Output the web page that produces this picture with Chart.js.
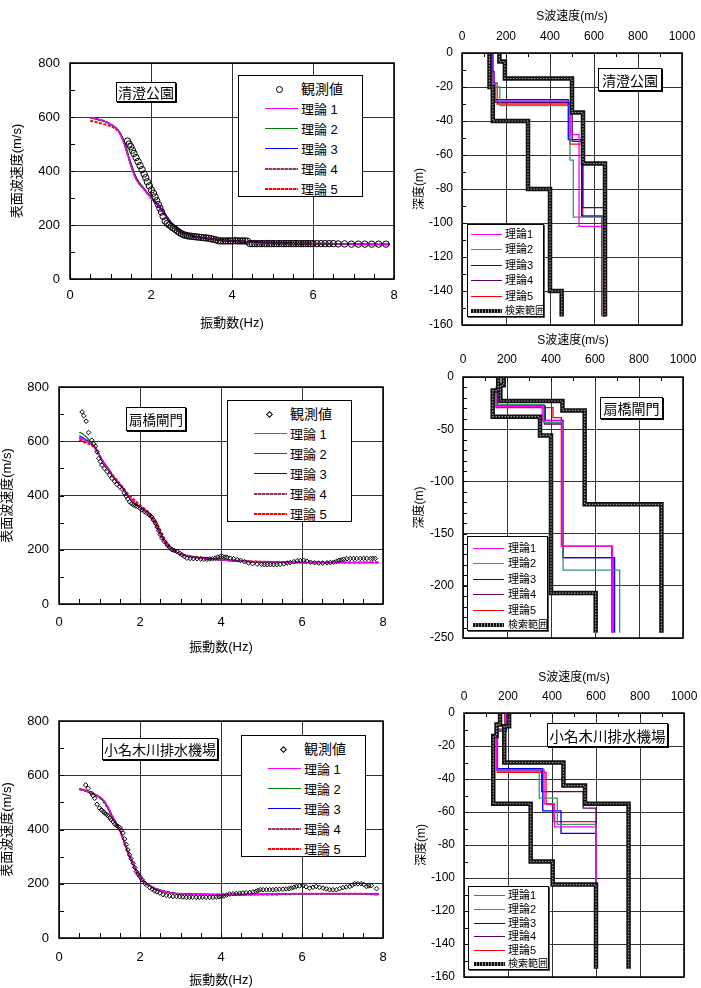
<!DOCTYPE html>
<html lang="ja"><head><meta charset="utf-8">
<script src="https://cdn.jsdelivr.net/npm/chart.js@4.4.1/dist/chart.umd.min.js"></script>
<style>
html,body{margin:0;padding:0;background:#fff;}
body{position:relative;width:701px;height:988px;overflow:hidden;font-family:"Liberation Sans","Noto Sans CJK JP",sans-serif;color:#000;}
.cv{position:absolute;}
.lg{position:absolute;background:#fff;border:1px solid #000;box-sizing:border-box;}
.tx{position:absolute;white-space:nowrap;line-height:1;transform:translateY(-50%);font-family:"Liberation Sans","Noto Sans CJK JP",sans-serif;}
.st{position:absolute;background:#fff;border:1px solid #000;box-shadow:1px 1px 0 #000;box-sizing:border-box;display:flex;align-items:center;justify-content:center;white-space:nowrap;font-family:"Noto Sans CJK JP",sans-serif;}
</style></head><body>
<canvas id="c1" class="cv" width="410" height="300" style="left:0;top:45px"></canvas>
<canvas id="c3" class="cv" width="400" height="300" style="left:0;top:360px"></canvas>
<canvas id="c5" class="cv" width="400" height="288" style="left:0;top:700px"></canvas>
<canvas id="c2" class="cv" width="301" height="335" style="left:400px;top:0"></canvas>
<canvas id="c4" class="cv" width="301" height="320" style="left:400px;top:330px"></canvas>
<canvas id="c6" class="cv" width="301" height="328" style="left:400px;top:660px"></canvas>
<script>
// ---------------- DATA ----------------
const stationNames = ['清澄公園', '扇橋閘門', '小名木川排水機場'];
const leftLegendLabels = ['観測値', '理論 1', '理論 2', '理論 3', '理論 4', '理論 5'];
const rightLegendLabels = ['理論1', '理論2', '理論3', '理論4', '理論5', '検索範囲'];
const freqTicks = [0, 2, 4, 6, 8];
const vrTicks = [0, 200, 400, 600, 800];

// 清澄公園 observed
const obs1F = [1.42,1.46,1.50,1.54,1.58,1.63,1.68,1.73,1.78,1.83,
  1.87,1.91,1.96,2.01,2.06,2.10,2.14,2.18,2.22,2.26,
  2.30,2.35,2.40,2.45,2.50,2.55,2.60,2.65,2.70,2.75,
  2.80,2.85,2.90,2.95,3.00,3.06,3.12,3.18,3.24,3.30,
  3.36,3.42,3.48,3.54,3.60,3.66,3.72,3.78,3.84,3.90,
  3.96,4.02,4.08,4.14,4.20,4.26,4.32,4.38,4.44,4.50,
  4.56,4.62,4.68,4.74,4.80,4.86,4.92,4.98,5.04,5.10,
  5.16,5.22,5.28,5.34,5.40,5.46,5.52,5.58,5.64,5.70,
  5.76,5.82,5.88,5.94,6.00,6.10,6.20,6.30,6.40,6.50,
  6.62,6.78,6.95,7.12,7.28,7.45,7.62,7.80];
const obs1V = [511,500,490,477,465,450,435,420,405,389,
  375,360,345,330,318,304,290,276,262,248,
  232,215,206,200,195,189,184,178,173,168,
  164,162,160,159,158,157,156,155,154,153,
  152,151,149,147,145,142,141,141,141,141,
  141,141,142,141,141,141,141,140,131,131,
  131,131,131,131,131,131,131,131,131,131,
  131,131,131,131,131,131,131,131,131,131,
  131,131,131,131,131,131,131,131,131,131,
  130,130,129,129,129,129,129,129];
// 清澄公園 theory
const th1F = [0.5,0.6,0.7,0.8,0.9,1.0,1.1,1.2,1.25,1.3,1.35,1.4,1.45,1.5,1.6,1.7,1.8,1.9,2.0,2.1,2.2,2.3,2.4,2.5,2.6,2.7,2.8,3.0,3.2,3.5,4.0,4.5,5.0,5.5,6.0,6.5,7.0,7.5,7.9];
const th1T1 = [598,596,592,588,582,574,563,546,533,515,495,470,445,420,378,352,336,318,300,284,267,246,224,205,189,177,168,159,154,148,141,137,134,132,131,130,129,128,128];
const th1T2 = [597,595,591,587,581,574,564,548,536,520,500,476,452,428,385,357,339,320,302,286,269,248,227,207,191,178,168,159,154,148,141,137,134,132,131,130,129,128,128];
const th1T3 = [596,594,590,586,580,573,564,549,538,522,502,478,454,430,387,359,340,321,303,288,272,252,231,210,193,179,169,159,154,148,141,137,134,132,131,130,129,128,128];
const th1T4 = [597,595,591,587,581,573,563,547,535,518,498,473,449,425,383,356,338,319,301,285,268,247,225,206,190,178,168,159,154,148,141,137,134,132,131,130,129,128,128];
const th1T5 = [586,583,579,575,570,566,559,546,535,518,498,474,450,426,384,357,338,319,301,286,269,248,227,207,191,178,168,159,154,148,141,137,134,132,131,130,129,128,128];

// 扇橋閘門 observed
const obs3F = [0.57,0.61,0.67,0.73,0.81,0.86,0.90,0.94,0.98,1.02,
  1.06,1.12,1.19,1.25,1.31,1.37,1.43,1.50,1.56,1.61,
  1.66,1.70,1.74,1.79,1.84,1.89,1.94,2.00,2.05,2.11,
  2.17,2.23,2.28,2.33,2.38,2.42,2.46,2.50,2.54,2.60,
  2.67,2.73,2.79,2.85,2.91,2.98,3.04,3.10,3.16,3.24,
  3.32,3.41,3.50,3.58,3.65,3.72,3.79,3.86,3.92,3.98,
  4.04,4.10,4.15,4.23,4.31,4.40,4.48,4.58,4.68,4.78,
  4.89,5.00,5.07,5.14,5.22,5.30,5.38,5.46,5.55,5.63,
  5.71,5.80,5.88,5.96,6.04,6.12,6.21,6.31,6.41,6.51,
  6.62,6.70,6.78,6.85,6.91,6.97,7.03,7.11,7.19,7.27,
  7.35,7.44,7.52,7.60,7.69,7.75,7.81];
const obs3V = [708,694,674,632,604,590,582,561,537,525,
  512,500,488,475,463,452,441,432,423,410,
  398,387,377,370,365,362,359,353,347,341,
  335,328,322,310,298,284,270,256,243,230,
  218,208,200,197,194,187,181,175,169,168,
  167,167,166,165,165,166,167,169,173,175,
  175,173,172,169,167,164,161,156,151,149,
  147,146,145,145,145,145,145,146,148,151,
  153,156,159,160,161,158,154,152,151,151,
  152,153,154,157,161,163,165,167,168,168,
  168,168,168,168,168,168,168];
// 扇橋閘門 theory
const th3F = [0.5,0.6,0.7,0.8,0.9,1.0,1.1,1.2,1.3,1.4,1.5,1.6,1.7,1.8,1.9,2.0,2.1,2.2,2.3,2.4,2.5,2.6,2.7,2.8,2.9,3.0,3.2,3.5,4.0,4.5,5.0,5.5,6.0,6.5,7.0,7.5,7.9];
const th3T1 = [615,606,598,590,574,548,522,500,478,458,440,420,400,383,368,356,344,331,312,284,254,228,210,198,190,184,176,170,163,158,155,154,153,153,153,153,153];
const th3T2 = [633,626,612,592,575,548,522,500,478,458,440,420,400,383,368,356,344,332,316,290,260,232,212,199,190,184,176,170,163,158,155,154,153,153,153,153,153];
const th3T3 = [620,612,603,592,575,548,522,500,478,458,440,420,400,383,368,356,344,332,316,290,260,232,212,199,190,184,176,170,163,158,155,154,153,153,153,153,153];
const th3T4 = [612,604,598,591,575,548,522,500,478,458,440,421,401,384,369,357,345,333,317,291,261,233,213,200,191,184,176,170,163,158,155,154,153,153,153,153,153];
const th3T5 = [605,598,592,586,572,547,522,502,481,462,444,425,406,392,378,364,352,340,325,302,272,242,218,203,192,185,177,171,164,159,156,154,153,153,153,153,153];

// 小名木川排水機場 observed
const obs5F = [0.66,0.72,0.80,0.84,0.88,0.94,1.00,1.05,1.09,1.13,
  1.17,1.21,1.25,1.29,1.33,1.38,1.42,1.46,1.50,1.54,
  1.58,1.62,1.66,1.70,1.74,1.78,1.83,1.87,1.91,1.95,
  1.99,2.05,2.12,2.18,2.24,2.30,2.36,2.42,2.49,2.57,
  2.65,2.73,2.81,2.90,2.98,3.06,3.14,3.22,3.30,3.39,
  3.47,3.55,3.63,3.72,3.80,3.88,3.95,4.01,4.07,4.14,
  4.21,4.30,4.38,4.46,4.54,4.62,4.71,4.79,4.86,4.91,
  4.97,5.04,5.12,5.20,5.28,5.36,5.44,5.53,5.61,5.68,
  5.74,5.80,5.86,5.94,6.02,6.10,6.19,6.27,6.35,6.43,
  6.52,6.60,6.68,6.76,6.85,6.93,7.01,7.09,7.18,7.24,
  7.30,7.38,7.46,7.53,7.59,7.65,7.71,7.84];
const obs5V = [564,552,534,525,515,493,479,472,466,461,
  456,450,444,436,429,420,415,411,407,398,
  387,365,344,325,307,292,276,260,245,236,
  227,215,202,194,186,180,174,170,166,160,
  157,155,153,153,152,151,150,150,150,150,
  150,150,150,150,150,151,152,153,155,158,
  162,163,164,165,166,167,168,170,172,175,
  178,178,178,178,178,179,180,180,181,182,
  184,187,190,192,193,189,184,187,190,187,
  184,181,178,178,178,182,186,188,190,195,
  200,200,200,197,190,192,193,182];
// 小名木川排水機場 theory
const th5F = [0.5,0.6,0.7,0.8,0.9,1.0,1.1,1.2,1.3,1.4,1.5,1.6,1.7,1.8,1.9,2.0,2.1,2.2,2.3,2.4,2.6,2.8,3.0,3.5,4.0,4.5,5.0,5.5,6.0,6.5,7.0,7.5,7.9];
const th5T1 = [548,545,541,536,530,521,508,485,455,427,399,360,318,282,252,226,208,196,188,181,172,166,163,161,160,160,161,162,163,163,163,163,161];
const th5T2 = [548,545,540,535,528,519,505,482,452,425,398,360,318,282,252,226,208,196,188,181,172,166,163,161,160,160,161,162,163,163,163,163,161];
const th5T3 = [548,545,540,535,528,519,505,482,452,425,398,359,317,281,251,226,208,196,188,181,172,166,163,161,160,160,161,162,164,164,164,164,162];
const th5T4 = [548,545,540,535,528,520,507,484,454,426,399,360,318,282,252,226,208,196,188,181,172,166,163,161,160,160,161,162,163,163,163,163,161];
const th5T5 = [549,546,541,535,527,518,503,480,450,423,396,357,316,280,250,225,207,195,187,180,171,165,162,160,160,160,160,161,162,162,162,162,160];

// Vs profiles: layer velocities (m/s) and layer bottom depths (m)
// 清澄公園
const sr2MinV = [125,140,300,400,453], sr2MinD = [20,40,80,140,155];
const sr2MaxV = [170,195,500,550,650], sr2MaxD = [5,15,35,65,155];
const p2T1V = [135,150,495,532,646], p2T1D = [18,28.5,48,102,155];
const p2T2V = [135,172,491,506,643], p2T2D = [20,31,63,96.5,155];
const p2T3V = [140,146,483,544,643], p2T3D = [11,27.5,51,96,155];
const p2T4V = [135,150,501,549,646], p2T4D = [18,29,52,91,155];
const p2T5V = [140,160,491,549,635], p2T5D = [17.7,30,53.6,96,155];
// 扇橋閘門
const sr4MinV = [160,135,350,400,603], sr4MinD = [13,38,56,207,245];
const sr4MaxV = [185,170,452,553,902], sr4MaxD = [8,23,32,122,245];
const p4T1V = [165,150,360,450,679], p4T1D = [10,28,42,162,245];
const p4T2V = [160,152,367,455,712], p4T2D = [12,26.5,43.7,185,245];
const p4T3V = [165,155,374,455,689], p4T3D = [8,28,41.5,173,245];
const p4T4V = [165,155,370,455,682], p4T4D = [10,27,45,173,245];
const p4T5V = [160,150,409,447,676], p4T5D = [12,29.4,39,162,245];
// 小名木川排水機場
const sr6MinV = [164,148,133,303,403,600], sr6MinD = [7,14,55,90,104,155];
const sr6MaxV = [205,183,452,550,748], sr6MaxD = [8,30,44,55,155];
const p6T1V = [191,148,364,411,600], p6T1D = [10,34.4,55,69,155];
const p6T2V = [188,150,342,424,600], p6T2D = [11,35,51.6,67.5,155];
const p6T3V = [193,150,358,441,600], p6T3D = [11,33.8,59.3,73,155];
const p6T4V = [190,152,353,542,600], p6T4D = [10,35,47.6,57.7,155];
const p6T5V = [185,152,373,409,600], p6T5D = [10,36,55.3,65.8,155];

// ---------------- RENDER ----------------
Chart.defaults.font.family = "'Liberation Sans','Noto Sans CJK JP',sans-serif";
Chart.defaults.color = '#000';

const pts = (xs, ys) => xs.map((x, i) => ({x, y: ys[i]}));
function steps(vs, ds) {
  const out = [{x: vs[0], y: 0}];
  for (let i = 0; i < vs.length; i++) {
    out.push({x: vs[i], y: -ds[i]});
    if (i < vs.length - 1) out.push({x: vs[i + 1], y: -ds[i]});
  }
  return out;
}

const frameMinor = {
  id: 'frameMinor',
  afterDatasetsDraw(chart, args, o) {
    const {ctx, chartArea: a, scales: {x, y}} = chart;
    ctx.save();
    ctx.strokeStyle = '#000'; ctx.lineWidth = 1;
    ctx.beginPath();
    if (o.xStep) {
      for (let i = 0; x.min + i * o.xStep <= x.max + 1e-9; i++) {
        const px = Math.round(x.getPixelForValue(x.min + i * o.xStep)) + 0.5;
        if (o.xTop) { ctx.moveTo(px, a.top); ctx.lineTo(px, a.top + o.len); }
        else { ctx.moveTo(px, a.bottom); ctx.lineTo(px, a.bottom - o.len); }
      }
    }
    if (o.yStep) {
      for (let i = 0; y.min + i * o.yStep <= y.max + 1e-9; i++) {
        const py = Math.round(y.getPixelForValue(y.min + i * o.yStep)) + 0.5;
        ctx.moveTo(a.left, py); ctx.lineTo(a.left + o.len, py);
      }
    }
    ctx.stroke();
    ctx.lineWidth = 1.5;
    ctx.strokeRect(a.left, a.top, a.right - a.left, a.bottom - a.top);
    ctx.restore();
  }
};

function fitW(w) { return s => { s.width = w; s.paddingTop = s.paddingBottom = s.paddingLeft = s.paddingRight = 0; }; }
function fitH(h) { return s => { s.height = h; s.paddingTop = s.paddingBottom = s.paddingLeft = s.paddingRight = 0; }; }

const leftColors = [
  {c: '#ff00ff', w: 1.2, d: []},
  {c: '#008000', w: 1.2, d: []},
  {c: '#0000ff', w: 1.2, d: []},
  {c: '#993366', w: 2, d: [4, 1.5]},
  {c: '#ff0000', w: 2, d: [3, 1.5]}
];
const rightColors = ['#ff00ff', '#339966', '#0000ff', '#660066', '#ff0000'];

function leftChart(id, g, obsF, obsV, marker, thF, ths, t) {
  const datasets = [{
    data: pts(obsF, obsV), showLine: false,
    pointStyle: marker === 'circle' ? 'circle' : 'rectRot',
    pointRadius: marker === 'circle' ? 3.2 : 2.3,
    pointBorderColor: '#000', pointBackgroundColor: 'rgba(0,0,0,0)', pointBorderWidth: 1
  }];
  ths.forEach((v, i) => datasets.push({
    data: pts(thF, v), showLine: true, pointRadius: 0,
    borderColor: leftColors[i].c, borderWidth: leftColors[i].w, borderDash: leftColors[i].d,
    cubicInterpolationMode: 'monotone'
  }));
  new Chart(document.getElementById(id), {
    type: 'scatter',
    data: {datasets},
    options: {
      responsive: false, animation: false, events: [], devicePixelRatio: 1,
      layout: {padding: {top: g.t - g.ct, right: g.cl + g.w - g.r, bottom: 0, left: 0}},
      plugins: {legend: {display: false}, tooltip: {enabled: false},
        frameMinor: {xStep: 0.5, yStep: 100, len: 5}},
      scales: {
        x: {type: 'linear', min: 0, max: 8, position: 'bottom',
          afterBuildTicks: s => { s.ticks = freqTicks.map(v => ({value: v})); },
          ticks: {padding: t.xPad, font: {size: 13}, maxRotation: 0, callback: v => String(v)},
          grid: {color: '#333', lineWidth: 1, drawTicks: false},
          border: {display: false},
          title: {display: true, text: '振動数(Hz)', font: {size: 13}, padding: {top: 0, bottom: t.xTitle}},
          afterFit: fitH(g.ct + g.h - g.b)},
        y: {type: 'linear', min: 0, max: 800, position: 'left',
          afterBuildTicks: s => { s.ticks = vrTicks.map(v => ({value: v})); },
          ticks: {padding: 10, font: {size: 13}, callback: v => String(v)},
          grid: {color: '#333', lineWidth: 1, drawTicks: false},
          border: {display: false},
          title: {display: true, text: '表面波速度(m/s)', font: {size: 13}, padding: {top: t.yTitle, bottom: 0}},
          afterFit: fitW(g.l - g.cl)}
      }
    },
    plugins: [frameMinor]
  });
}

function rightChart(id, g, ymin, ystep, srMin, srMax, profs, t) {
  const datasets = [];
  [srMin, srMax].forEach(s => datasets.push({data: steps(s[0], s[1]), showLine: true, pointRadius: 0, borderColor: '#a0a0a0', borderWidth: 1.2, borderDash: [1.5, 1.5]}));
  [srMin, srMax].forEach(s => datasets.push({data: steps(s[0], s[1]), showLine: true, pointRadius: 0, borderColor: '#111', borderWidth: 4.5}));
  profs.forEach((p, i) => datasets.push({data: steps(p[0], p[1]), showLine: true, pointRadius: 0, borderColor: rightColors[i], borderWidth: 1.3}));
  new Chart(document.getElementById(id), {
    type: 'scatter',
    data: {datasets},
    options: {
      responsive: false, animation: false, events: [], devicePixelRatio: 1,
      layout: {padding: {top: 0, right: g.cl + g.w - g.r, bottom: g.ct + g.h - g.b, left: 0}},
      plugins: {legend: {display: false}, tooltip: {enabled: false},
        frameMinor: {xStep: 100, xTop: true, yStep: ystep / (ystep === 50 ? 5 : 2), len: 4}},
      scales: {
        x: {type: 'linear', min: 0, max: 1000, position: 'top',
          ticks: {stepSize: 200, padding: t.xPad, font: {size: 12}, maxRotation: 0, callback: v => String(v)},
          grid: {color: '#333', lineWidth: 1, drawTicks: false},
          border: {display: false},
          title: {display: true, text: 'S波速度(m/s)', font: {size: 12}, padding: {top: t.xTitle, bottom: 0}},
          afterFit: fitH(g.t - g.ct)},
        y: {type: 'linear', min: ymin, max: 0, position: 'left',
          ticks: {stepSize: ystep, padding: 9, font: {size: 12}, callback: v => String(v)},
          grid: {color: '#333', lineWidth: 1, drawTicks: false},
          border: {display: false},
          title: {display: true, text: '深度(m)', font: {size: 12}, padding: {top: t.yTitle, bottom: 0}},
          afterFit: fitW(g.l - g.cl)}
      }
    },
    plugins: [frameMinor]
  });
}

leftChart('c1', {cl: 0, ct: 45, w: 410, h: 300, l: 70, t: 63, r: 394, b: 279}, obs1F, obs1V, 'circle', th1F,
  [th1T1, th1T2, th1T3, th1T4, th1T5], {xPad: 9, xTitle: 14, yTitle: 10});
leftChart('c3', {cl: 0, ct: 360, w: 400, h: 300, l: 59, t: 387, r: 383, b: 604}, obs3F, obs3V, 'diamond', th3F,
  [th3T1, th3T2, th3T3, th3T4, th3T5], {xPad: 11, xTitle: 5, yTitle: 0});
leftChart('c5', {cl: 0, ct: 700, w: 400, h: 288, l: 59, t: 721, r: 383, b: 938}, obs5F, obs5V, 'diamond', th5F,
  [th5T1, th5T2, th5T3, th5T4, th5T5], {xPad: 12, xTitle: 0, yTitle: 0});

rightChart('c2', {cl: 400, ct: 0, w: 301, h: 335, l: 462, t: 53, r: 682, b: 325}, -160, 20,
  [sr2MinV, sr2MinD], [sr2MaxV, sr2MaxD],
  [[p2T1V, p2T1D], [p2T2V, p2T2D], [p2T3V, p2T3D], [p2T4V, p2T4D], [p2T5V, p2T5D]], {xPad: 9, xTitle: 9, yTitle: 12});
rightChart('c4', {cl: 400, ct: 330, w: 301, h: 320, l: 463, t: 377, r: 683, b: 638}, -250, 50,
  [sr4MinV, sr4MinD], [sr4MaxV, sr4MaxD],
  [[p4T1V, p4T1D], [p4T2V, p4T2D], [p4T3V, p4T3D], [p4T4V, p4T4D], [p4T5V, p4T5D]], {xPad: 10, xTitle: 3, yTitle: 12});
rightChart('c6', {cl: 400, ct: 660, w: 301, h: 328, l: 464, t: 713, r: 684, b: 977}, -160, 20,
  [sr6MinV, sr6MinD], [sr6MaxV, sr6MaxD],
  [[p6T1V, p6T1D], [p6T2V, p6T2D], [p6T3V, p6T3D], [p6T4V, p6T4D], [p6T5V, p6T5D]], {xPad: 9, xTitle: 10, yTitle: 14});

// ---------------- HTML legends and labels ----------------
function mk(parent, styles, cls, text) {
  const d = document.createElement('div');
  if (cls) d.className = cls;
  Object.assign(d.style, {position: 'absolute'}, styles);
  if (text !== undefined) d.textContent = text;
  parent.appendChild(d);
  return d;
}
const leftSamples = [
  {h: 1.3, bg: '#ff00ff'},
  {h: 1.3, bg: '#008000'},
  {h: 1.3, bg: '#0000ff'},
  {h: 2, bg: 'repeating-linear-gradient(90deg,#993366 0 3px,#c890b0 3px 4px)'},
  {h: 2, bg: 'repeating-linear-gradient(90deg,#ff0000 0 3px,#ff9a9a 3px 4px)'}
];
function leftLegend(x, y, marker) {
  const box = mk(document.body, {left: x + 'px', top: y + 'px', width: '125px', height: '122px'}, 'lg');
  leftLegendLabels.forEach((lab, i) => {
    const cy = 13 + 20 * i;
    if (i === 0) {
      if (marker === 'circle') mk(box, {left: '37px', top: (cy - 3.5) + 'px', width: '5px', height: '5px', border: '1px solid #000', borderRadius: '50%'});
      else mk(box, {left: '39px', top: (cy - 2.5) + 'px', width: '3px', height: '3px', border: '1px solid #000', transform: 'rotate(45deg)'});
    } else {
      const s = leftSamples[i - 1];
      mk(box, {left: '26px', width: '33px', top: Math.round(cy - s.h / 2) + 'px', height: s.h + 'px', background: s.bg});
    }
    mk(box, {left: '62px', top: cy + 'px', fontSize: (i === 0 ? 14 : 13) + 'px'}, 'tx', lab);
  });
}
function rightLegend(x, y, w, h, r0, dr, lx, tx) {
  const box = mk(document.body, {left: x + 'px', top: y + 'px', width: w + 'px', height: h + 'px', boxShadow: '1px 1px 0 #555'}, 'lg');
  rightLegendLabels.forEach((lab, i) => {
    const cy = Math.round(r0 + dr * i);
    if (i < 5) mk(box, {left: lx + 'px', width: '31px', top: cy + 'px', height: '1.2px', background: rightColors[i]});
    else mk(box, {left: lx + 'px', width: '31px', top: (cy - 2) + 'px', height: '4px', background: 'repeating-linear-gradient(90deg,#111 0 2px,#8a8a8a 2px 3px)'});
    mk(box, {left: tx + 'px', top: cy + 'px', fontSize: (i < 5 ? 11 : 10) + 'px'}, 'tx', lab);
  });
}
function station(x, y, w, h, fs, name) {
  mk(document.body, {left: x + 'px', top: y + 'px', width: w + 'px', height: h + 'px', fontSize: fs + 'px'}, 'st', name);
}

leftLegend(238, 75, 'circle');
leftLegend(227, 400, 'diamond');
leftLegend(241, 735, 'diamond');
rightLegend(467, 224, 77, 93, 9, 15.4, 3, 37);
rightLegend(467, 536, 81, 95, 11, 15.4, 5, 40);
rightLegend(468, 886, 81, 84, 8, 13.8, 5, 39);
station(116, 82, 60, 20, 14, stationNames[0]);
station(598, 68, 64, 23, 14, stationNames[0]);
station(126, 407, 60, 24, 13.5, stationNames[1]);
station(600, 397, 63, 22, 14, stationNames[1]);
station(102, 738, 116, 22, 14, stationNames[2]);
station(547, 723, 121, 24, 14.5, stationNames[2]);
</script>
</body></html>
